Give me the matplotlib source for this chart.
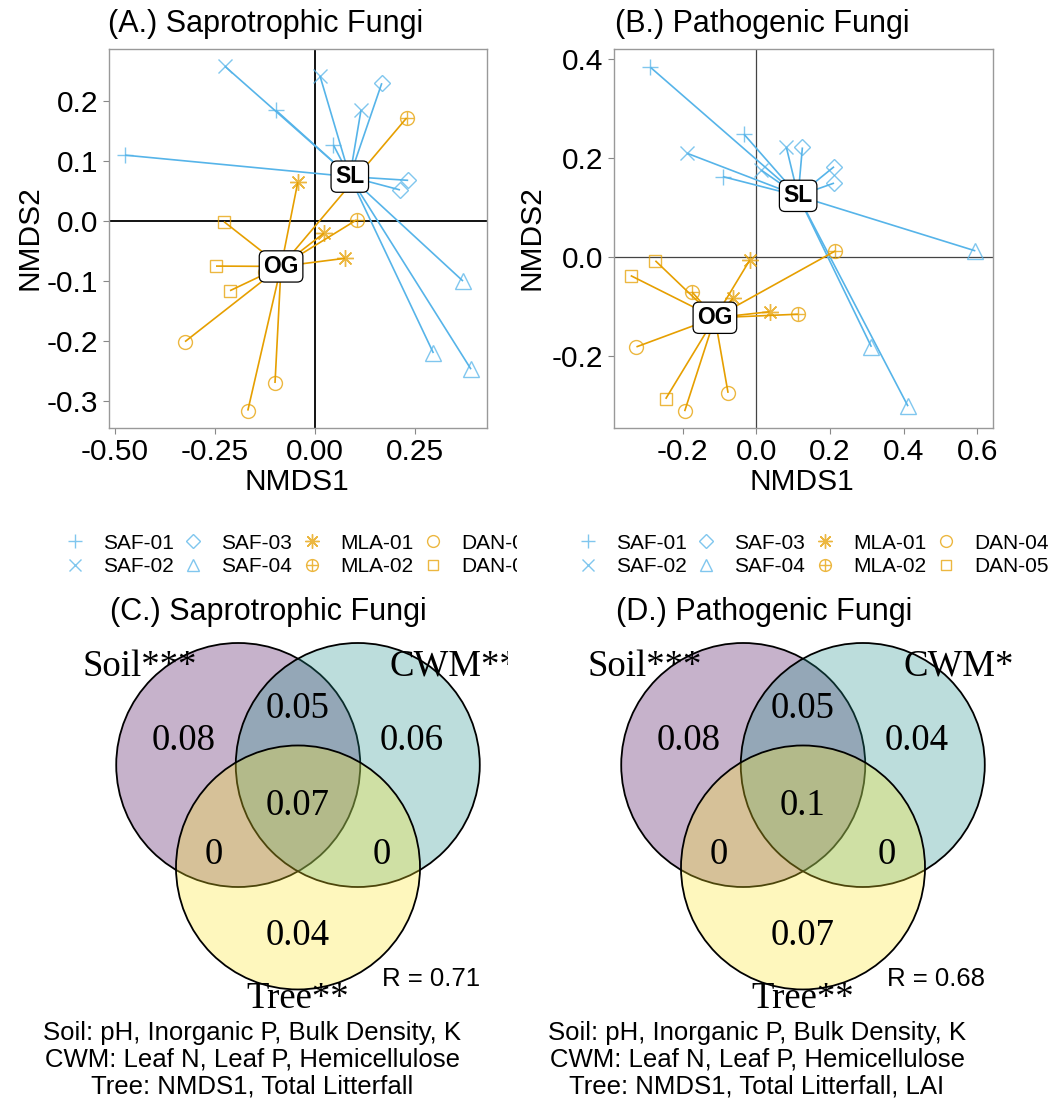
import numpy as np
import matplotlib
matplotlib.use("Agg")
import matplotlib.pyplot as plt
from matplotlib.path import Path
from matplotlib.patches import Circle
from matplotlib.lines import Line2D
from matplotlib.transforms import Bbox, TransformedBbox

plt.rcParams['font.family'] = ['Liberation Sans', 'DejaVu Sans']

W, H = 1052, 1101

# ---- NMDS scores (3 plots per site) ----
groups = ['SAF-01', 'SAF-02', 'SAF-03', 'SAF-04', 'MLA-01', 'MLA-02', 'DAN-04', 'DAN-05']
group_cover = ['SL', 'SL', 'SL', 'SL', 'OG', 'OG', 'OG', 'OG']

sap_nmds1 = [[-0.475, -0.098, 0.046], [-0.225, 0.0125, 0.115], [0.167, 0.233, 0.2125],
             [0.37, 0.296, 0.39], [-0.043, 0.0225, 0.075], [0.229, 0.104, -0.125],
             [-0.325, -0.1, -0.168], [-0.2275, -0.2475, -0.2125]]
sap_nmds2 = [[0.11, 0.185, 0.127], [0.258, 0.242, 0.185], [0.23, 0.068, 0.052],
             [-0.1, -0.22, -0.247], [0.065, -0.02, -0.062], [0.172, 0.002, -0.085],
             [-0.201, -0.27, -0.316], [-0.001, -0.075, -0.116]]

path_nmds1 = [[-0.288, -0.034, -0.091], [-0.1875, 0.0815, 0.0136], [0.125, 0.211, 0.211],
              [0.595, 0.3125, 0.412], [-0.018, -0.0636, 0.036], [-0.175, 0.2147, 0.113],
              [-0.326, -0.077, -0.195], [-0.2745, -0.3416, -0.2465]]
path_nmds2 = [[0.383, 0.248, 0.162], [0.209, 0.221, 0.175], [0.221, 0.182, 0.149],
              [0.012, -0.182, -0.302], [-0.0067, -0.084, -0.111], [-0.071, 0.012, -0.116],
              [-0.182, -0.275, -0.312], [-0.008, -0.038, -0.287]]

# ---- variation partitioning ----
# order: soil, soil&cwm, cwm, all, soil&tree, cwm&tree, tree
sap_venn = [0.08, 0.05, 0.06, 0.07, 0, 0, 0.04]
path_venn = [0.08, 0.05, 0.04, 0.1, 0, 0, 0.07]
sap_sets = ['Soil***', 'CWM**', 'Tree**']
path_sets = ['Soil***', 'CWM*', 'Tree**']
sap_R = 0.71
path_R = 0.68
sap_vars = ['Soil: pH, Inorganic P, Bulk Density, K',
            'CWM: Leaf N, Leaf P, Hemicellulose',
            'Tree: NMDS1, Total Litterfall']
path_vars = ['Soil: pH, Inorganic P, Bulk Density, K',
             'CWM: Leaf N, Leaf P, Hemicellulose',
             'Tree: NMDS1, Total Litterfall, LAI']

cover_color = {'SL': '#56B4E9', 'OG': '#E69F00'}

# R pch-like markers
oplus = Path.make_compound_path(
    Path.unit_circle(),
    Path([[-1, 0], [1, 0], [0, -1], [0, 1]], [Path.MOVETO, Path.LINETO, Path.MOVETO, Path.LINETO]))
group_marker = ['+', 'x', 'D', '^', (8, 2, 0), oplus, 'o', 's']
group_ms = [12, 10, 8, 11, 12, 10, 10, 8.5]


def px_rect(x0, y0, x1, y1):
    return [x0 / W, 1 - y1 / H, (x1 - x0) / W, (y1 - y0) / H]


fig = plt.figure(figsize=(W / 100, H / 100), dpi=100)


def nmds_panel(rect, xs, ys, xlim, ylim, xticks, xfmt, yticks, yfmt, zero_c, zero_lw):
    ax = fig.add_axes(rect)
    ax.axhline(0, color=zero_c, lw=zero_lw, zorder=1)
    ax.axvline(0, color=zero_c, lw=zero_lw, zorder=1)
    cents = {}
    for cover in ['SL', 'OG']:
        idx = [i for i, c in enumerate(group_cover) if c == cover]
        px = np.concatenate([xs[i] for i in idx])
        py = np.concatenate([ys[i] for i in idx])
        cx, cy = px.mean(), py.mean()
        cents[cover] = (cx, cy)
        for x, y in zip(px, py):
            ax.plot([cx, x], [cy, y], color=cover_color[cover], lw=1.2, zorder=2,
                    solid_capstyle='butt')
    for i, g in enumerate(groups):
        ax.plot(xs[i], ys[i], ls='none', marker=group_marker[i], ms=group_ms[i],
                mec=cover_color[group_cover[i]], mfc='none', mew=1.0, alpha=0.75, zorder=3)
    for cover, (cx, cy) in cents.items():
        ax.text(cx, cy, cover, ha='center', va='center', fontsize=16.5, fontweight='bold',
                zorder=6, bbox=dict(boxstyle='round,pad=0.18,rounding_size=0.25',
                                    fc='white', ec='black', lw=0.9))
    ax.set_xlim(xlim)
    ax.set_ylim(ylim)
    ax.set_xticks(xticks)
    ax.set_xticklabels([xfmt.format(v) for v in xticks])
    ax.set_yticks(yticks)
    ax.set_yticklabels([yfmt.format(v) for v in yticks])
    ax.tick_params(length=4, width=0.8, color='#888888', labelsize=21.5, pad=3.5)
    for s in ax.spines.values():
        s.set_color('#999999')
        s.set_linewidth(1.0)
    return ax


nmds_panel(px_rect(109, 49, 487, 428), sap_nmds1, sap_nmds2, (-0.515, 0.43), (-0.345, 0.287),
           [-0.5, -0.25, 0, 0.25], '{:.2f}', [-0.3, -0.2, -0.1, 0, 0.1, 0.2], '{:.1f}', 'black', 1.3)
nmds_panel(px_rect(614, 49, 993, 428), path_nmds1, path_nmds2, (-0.387, 0.643), (-0.346, 0.42),
           [-0.2, 0, 0.2, 0.4, 0.6], '{:.1f}', [-0.2, 0, 0.2, 0.4], '{:.1f}', '#444444', 0.9)

# titles and axis labels
for x0, y0, t in [(108, 24, '(A.) Saprotrophic Fungi'), (615, 24, '(B.) Pathogenic Fungi'),
                  (110, 612, '(C.) Saprotrophic Fungi'), (616, 612, '(D.) Pathogenic Fungi')]:
    fig.text(x0 / W, 1 - y0 / H, t, ha='left', va='center', fontsize=22)
for x0, y0 in [(297, 482), (802, 482)]:
    fig.text(x0 / W, 1 - y0 / H, 'NMDS1', ha='center', va='center', fontsize=21.5)
for x0, y0 in [(29, 238), (532, 238)]:
    fig.text(x0 / W, 1 - y0 / H, 'NMDS2', ha='center', va='center', fontsize=21.5, rotation=90)

# legends
handles = [Line2D([], [], ls='none', marker=group_marker[i], ms=group_ms[i] * 0.85,
                  mec=cover_color[group_cover[i]], mfc='none', mew=1.0, alpha=0.75)
           for i in range(len(groups))]
for cx, clip in [(300, True), (813, False)]:
    leg = fig.legend(handles, groups, ncol=4, loc='center', bbox_to_anchor=(cx / W, 1 - 555 / H),
                     frameon=False, fontsize=15, handlelength=1.0, handletextpad=0.85,
                     columnspacing=0.45, labelspacing=0.22, borderpad=0, borderaxespad=0)
    if clip:
        cb = TransformedBbox(Bbox([[0, 0], [517 / W, 1]]), fig.transFigure)
        for t in leg.get_texts():
            t.set_clip_box(cb)
            t.set_clip_on(True)

# ---- Venn panels ----
unit = 122.0
venn_centers = [(-0.49, 0.0), (0.49, 0.0), (0.0, -0.84)]
venn_colors = ['#440154', '#21908C', '#FDE725']
region_pos = [(-0.94, 0.23), (0.0, 0.49), (0.93, 0.23), (0.0, -0.30),
              (-0.69, -0.70), (0.69, -0.70), (0.0, -1.37)]
set_pos = [(-1.30, 0.84), (1.28, 0.84), (0.0, -1.88)]


def venn_panel(box, mid, values, sets, rval, vars_):
    x0, y0, x1, y1 = box
    ax = fig.add_axes(px_rect(*box))
    ax.set_xlim((x0 - mid[0]) / unit, (x1 - mid[0]) / unit)
    ax.set_ylim((mid[1] - y1) / unit, (mid[1] - y0) / unit)
    ax.axis('off')
    for (cx, cy), col in zip(venn_centers, venn_colors):
        ax.add_patch(Circle((cx, cy), 1.0, fc=col, alpha=0.3, ec='none'))
        ax.add_patch(Circle((cx, cy), 1.0, fc='none', ec='black', lw=1.3))
    for v, (x, y) in zip(values, region_pos):
        ax.text(x, y, f'{v:g}', ha='center', va='center_baseline', fontsize=26.5,
                family=['Liberation Serif', 'DejaVu Serif'])
    for s, (x, y) in zip(sets, set_pos):
        ax.text(x, y, s, ha='center', va='center_baseline', fontsize=26.5,
                family=['Liberation Serif', 'DejaVu Serif'], clip_on=True)
    ax.text(0.686, -1.75, f'R = {rval}', ha='left', va='center', fontsize=18.5)
    for i, line in enumerate(vars_):
        ax.text(-0.377, -2.197 - 0.221 * i, line, ha='center', va='center', fontsize=18.5)


venn_panel((0, 585, 508, 1101), (298, 765), sap_venn, sap_sets, sap_R, sap_vars)
venn_panel((526, 585, 1052, 1101), (803, 765), path_venn, path_sets, path_R, path_vars)

fig.savefig('out.png', dpi=100)
